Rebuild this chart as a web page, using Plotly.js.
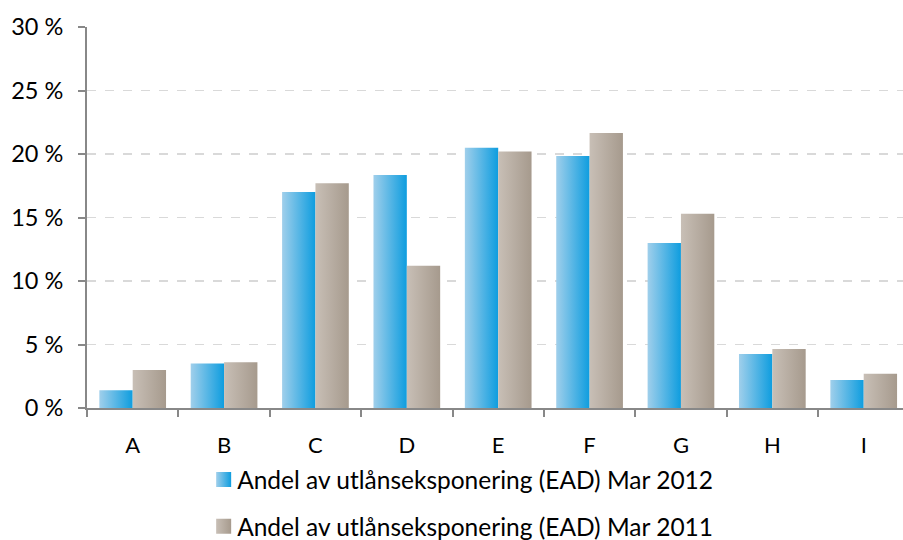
<!DOCTYPE html>
<html>
<head>
<meta charset="utf-8">
<script src="https://cdn.plot.ly/plotly-3.0.1.min.js"></script>
<style>html,body{margin:0;padding:0;background:#fff;}#chart{width:903px;height:540px;}</style>
</head>
<body>
<div id="chart"></div>
<script>
const categories = ["A", "B", "C", "D", "E", "F", "G", "H", "I"];
const series2012Name = "Andel av utlånseksponering (EAD) Mar 2012";
const series2011Name = "Andel av utlånseksponering (EAD) Mar 2011";
const values2012 = [1.4, 3.5, 17.0, 18.35, 20.5, 19.85, 13.0, 4.25, 2.2];
const values2011 = [3.0, 3.6, 17.7, 11.2, 20.2, 21.65, 15.3, 4.65, 2.7];
const yTicks = [0, 5, 10, 15, 20, 25, 30];

const font = "Lato, 'Open Sans', sans-serif";
const traces = [
  {type: "bar", x: categories, y: values2012, name: series2012Name, legendgroup: "a",
   marker: {color: "#5ab4e5", line: {width: 0}}, hoverinfo: "skip"},
  {type: "bar", x: categories, y: values2011, name: series2011Name, legendgroup: "b",
   marker: {color: "#b7ada2", line: {width: 0}}, hoverinfo: "skip"}
];
const layout = {
  width: 903, height: 540,
  margin: {l: 87, r: 0, t: 27, b: 132, autoexpand: false},
  paper_bgcolor: "#fff", plot_bgcolor: "#fff",
  font: {family: font, size: 22, color: "#000"},
  barmode: "group", bargap: 0.27, bargroupgap: 0,
  xaxis: {type: "category", range: [-0.5, 8.43], tickson: "boundaries", ticks: "outside",
          ticklen: 7, tickwidth: 2, tickcolor: "#888", showline: true, linecolor: "#888",
          linewidth: 2, showgrid: false, tickfont: {size: 22}, ticklabelstandoff: 17,
          fixedrange: true},
  yaxis: {range: [0, 30], tickvals: yTicks, ticktext: yTicks.map(v => v + " %"),
          ticks: "outside", ticklen: 7, tickwidth: 2, tickcolor: "#888", showline: true,
          linecolor: "#888", linewidth: 2, showgrid: true, gridcolor: "#d9d9d9",
          griddash: "dash", gridwidth: 1.5, zeroline: false, tickfont: {size: 23.5},
          ticklabelstandoff: 10, fixedrange: true},
  showlegend: true,
  legend: {orientation: "v", x: 0.135, xanchor: "left", yref: "container", y: 0.1537, yanchor: "top",
           tracegroupgap: 12, font: {size: 24.5}, bgcolor: "rgba(0,0,0,0)"}
};
Plotly.newPlot("chart", traces, layout, {displayModeBar: false, staticPlot: true}).then(gd => {
  const svg = gd.querySelector("svg.main-svg");
  const ns = "http://www.w3.org/2000/svg";
  let defs = svg.querySelector("defs");
  const mk = (id, c1, c2) => {
    const g = document.createElementNS(ns, "linearGradient");
    g.setAttribute("id", id); g.setAttribute("x1", "0"); g.setAttribute("x2", "1");
    g.setAttribute("y1", "0"); g.setAttribute("y2", "0");
    [[0, c1], [1, c2]].forEach(([o, c]) => {
      const s = document.createElementNS(ns, "stop");
      s.setAttribute("offset", o); s.setAttribute("stop-color", c);
      g.appendChild(s);
    });
    defs.appendChild(g);
  };
  mk("gBlue", "#a0cfeb", "#0e9ddf");
  mk("gTan", "#c8bfb6", "#a69a8d");
  const grads = ["url(#gBlue)", "url(#gTan)"];
  gd.querySelectorAll(".barlayer .trace").forEach((t, i) => {
    t.querySelectorAll("path").forEach(p => p.style.fill = grads[i]);
  });
  gd.querySelectorAll(".legend .traces").forEach((t, i) => {
    t.querySelectorAll(".legendpoints path").forEach(p => {
      p.style.fill = grads[i];
      p.setAttribute("transform", "translate(26.5,0) scale(1.25)");
    });
  });
});
</script>
</body>
</html>
